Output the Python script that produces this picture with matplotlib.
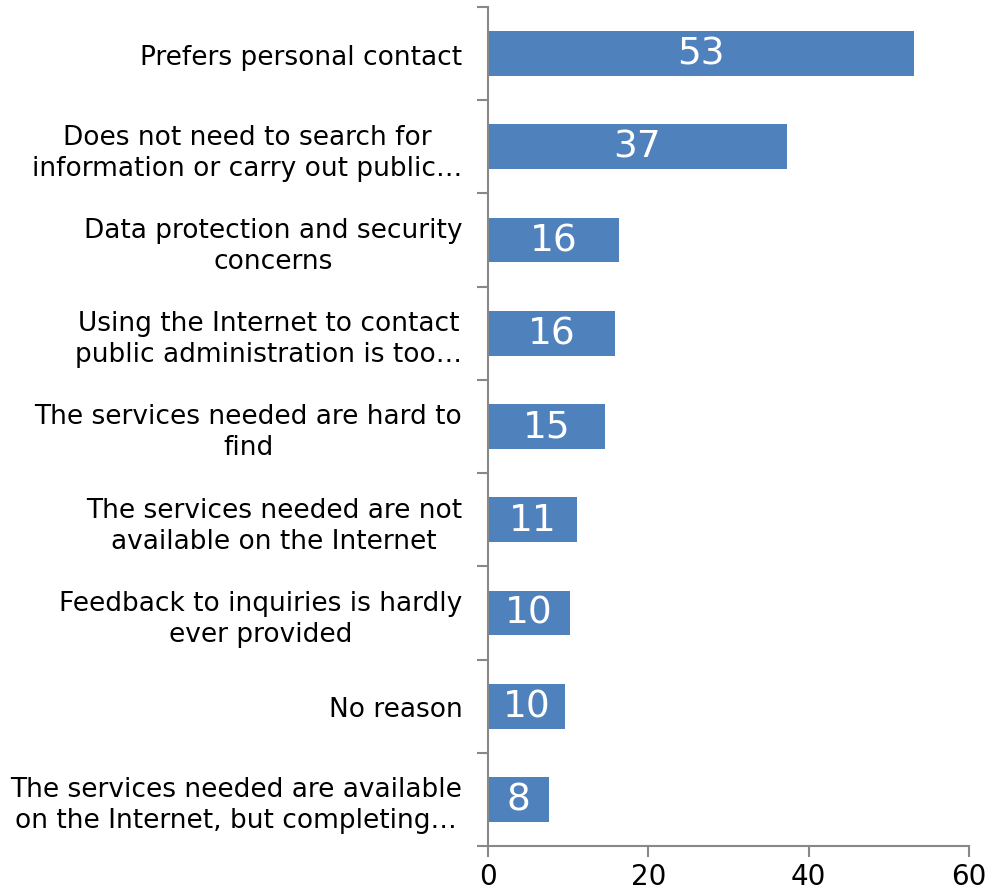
import matplotlib
matplotlib.use("Agg")
import matplotlib.pyplot as plt
import numpy as np

categories = [
    "Prefers personal contact",
    "Does not need to search for\ninformation or carry out public\u2026",
    "Data protection and security\nconcerns",
    "Using the Internet to contact\npublic administration is too\u2026",
    "The services needed are hard to\nfind",
    "The services needed are not\navailable on the Internet",
    "Feedback to inquiries is hardly\never provided",
    "No reason",
    "The services needed are available\non the Internet, but completing\u2026",
]
values = [53.1, 37.3, 16.3, 15.8, 14.6, 11.1, 10.2, 9.6, 7.6]
xticks = [0, 20, 40, 60]

plt.rcParams['font.family'] = ['DejaVu Sans']
fig = plt.figure(figsize=(9.86, 8.95), dpi=100)
ax = fig.add_axes([488/986, 48/895, (969-488)/986, (847-8)/895])

n = len(categories)
y = np.arange(n)
bars = ax.barh(y, values, height=0.48, color='#4F81BD')
ax.set_ylim(n - 0.5, -0.5)
ax.set_xlim(0, 60)
ax.set_xticks(xticks)
ax.set_xticklabels([str(t) for t in xticks], fontsize=20)

ax.set_yticks(np.arange(n + 1) - 0.5)
ax.set_yticklabels([])
ax.set_yticks(y, minor=True)
ax.set_yticklabels(categories, minor=True, fontsize=19, multialignment='center',
                   linespacing=1.25)
ax.tick_params(axis='y', which='minor', length=0, pad=18.5)
ax.tick_params(axis='y', which='major', length=8, width=1.5, color='#888888', direction='out')
ax.tick_params(axis='x', length=8, width=1.5, color='#888888', direction='out', pad=3.5)

for s in ['top', 'right']:
    ax.spines[s].set_visible(False)
for s in ['left', 'bottom']:
    ax.spines[s].set_color('#888888')
    ax.spines[s].set_linewidth(1.5)

for yi, v in zip(y, values):
    ax.text(v / 2, yi, f"{v:.0f}", ha='center', va='center', color='white', fontsize=27)

fig.savefig("out.png", dpi=100)
